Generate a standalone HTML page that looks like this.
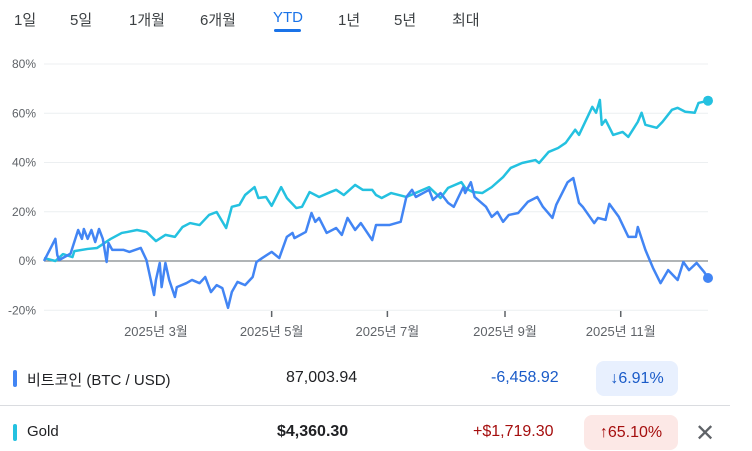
<!DOCTYPE html>
<html><head><meta charset="utf-8"><style>
body{margin:0;width:752px;height:451px;background:#fff;font-family:"Liberation Sans","Noto Sans CJK KR",sans-serif;overflow:hidden;position:relative;color:#202124}
.tab{position:absolute;top:9px;font-size:15px;color:#3c4043}
.abs{position:absolute}
</style></head><body>
<div>
<span class="tab" style="left:14px">1일</span>
<span class="tab" style="left:70px">5일</span>
<span class="tab" style="left:129px">1개월</span>
<span class="tab" style="left:200px">6개월</span>
<span class="tab" style="left:273px;color:#1a73e8">YTD</span>
<div class="abs" style="left:274px;top:29px;width:27px;height:3px;border-radius:2px;background:#1a73e8"></div>
<span class="tab" style="left:338px">1년</span>
<span class="tab" style="left:394px">5년</span>
<span class="tab" style="left:452px">최대</span>
</div>
<svg id="chart" class="abs" style="left:0;top:0" width="752" height="350"></svg>

<div>
<div class="abs" style="left:13px;top:370px;width:4px;height:17px;border-radius:2px;background:#4285f4"></div>
<span class="abs" style="left:27px;top:369px;font-size:15px">비트코인 (BTC / USD)</span>
<span class="abs" style="left:286px;top:369px;font-size:16px">87,003.94</span>
<span class="abs" style="left:491px;top:369px;font-size:16px;color:#1a5bc8">-6,458.92</span>
<div class="abs" style="left:596px;top:361px;width:82px;height:35px;border-radius:8px;background:#e8f0fe;color:#1a5bc8;font-size:16px;line-height:35px;text-align:center">↓6.91%</div>
</div>
<div class="abs" style="left:0;top:405px;width:730px;height:1px;background:#dadce0"></div>
<div>
<div class="abs" style="left:13px;top:424px;width:4px;height:17px;border-radius:2px;background:#24c1e0"></div>
<span class="abs" style="left:27px;top:423px;font-size:15px">Gold</span>
<span class="abs" style="left:277px;top:423px;font-size:16px;font-weight:bold">$4,360.30</span>
<span class="abs" style="left:473px;top:423px;font-size:16px;color:#a50e0e">+$1,719.30</span>
<div class="abs" style="left:584px;top:415px;width:94px;height:35px;border-radius:8px;background:#fce8e6;color:#a50e0e;font-size:16px;line-height:35px;text-align:center">↑65.10%</div>
<span class="abs" style="left:695px;top:419px;font-size:24px;color:#5f6368">✕</span>
</div>
<script>
const yTicks=[80,60,40,20,0,-20];
const xTickDays=[59,120,181,243,304];
const xTickLabels=["2025년 3월","2025년 5월","2025년 7월","2025년 9월","2025년 11월"];
const btcDays=[0,3,6,7,8,14,18,20,21,23,25,27,29,31,33,34,36,42,45,51,54,58,59,61,62,64,66,69,70,75,78,82,85,88,91,94,97,99,102,106,110,112,115,120,124,128,131,132,138,141,143,145,149,154,157,160,164,167,173,175,182,188,191,194,196,203,205,209,213,216,221,222,225,227,233,236,239,242,245,250,255,260,263,268,270,276,279,282,284,290,292,296,298,303,308,312,313,317,321,325,329,334,337,340,344,348,350];
const btcValues=[0,4.5,9,2.4,0.4,3,12.6,9,13,9,12.6,7.7,13,9,-0.4,7.3,4.5,4.5,3.7,5.3,0.4,-13.8,-7.7,-0.8,-10.6,-0.8,-7.7,-14.6,-10.6,-9,-7.7,-9,-6.5,-12.6,-9.8,-11,-19,-12.6,-8.5,-9.8,-6.5,-0.4,1.2,3.7,1.2,9.8,11.4,9.3,11.8,19.5,15.9,17.5,11.4,13.4,10.6,17.5,12.6,15.4,8.5,14.6,14.6,15.9,26,28.9,26,28.9,24.8,27.6,23.6,22,30,27.6,32,26,22,17.9,19.9,15.9,18.7,19.5,24,26,22,17.5,22.8,32,33.7,23.6,22,15.4,17.5,16.7,23.2,17.9,9.8,9.8,13.8,4.5,-2.8,-9,-3.7,-7.7,-0.4,-3.7,-0.8,-4.5,-6.91];
const goldDays=[0,6,10,15,16,23,28,35,41,44,49,54,59,64,69,73,77,82,87,91,96,99,103,106,111,113,117,120,125,128,133,136,140,145,151,154,158,164,168,173,175,178,183,191,197,203,209,213,220,222,226,231,236,242,246,252,259,261,266,271,275,280,282,287,289,291,293,294,296,300,305,308,313,315,317,323,326,331,334,338,343,345,350];
const goldValues=[1.2,0,2.8,1.6,4,4.9,5.3,8.9,11.4,11.8,12.6,11.8,8.1,10.6,9.8,13.8,15.4,14.6,18.7,19.9,13.4,22,22.8,26.8,30,25.6,26,22.4,30,25.6,21.5,22,28,26,28,28.9,26.8,30.9,28.9,28.9,26.8,25.6,27.6,26,28,30,25.6,29.7,32,29.7,28,27.6,30,34.1,37.8,39.8,41,39.8,44.3,45.9,48,53.3,51.2,59.3,62.6,60.2,65.4,55.3,57.3,51.2,52.4,50.4,56.5,60.2,55.3,54.1,56.5,61.4,62.2,60.6,60.2,64.2,65.1];
const NS="http://www.w3.org/2000/svg";
const svg=document.getElementById('chart');
const X0=44,X1=708,DMAX=350;
const xs=d=>X0+d/DMAX*(X1-X0);
const ys=v=>261-v*(49.25/20);
function mk(t,a){const e=document.createElementNS(NS,t);for(const k in a)e.setAttribute(k,a[k]);svg.appendChild(e);return e;}
yTicks.forEach(v=>{
 const l=mk('line',{x1:X0,x2:X1,y1:ys(v),y2:ys(v),stroke:v===0?'#80868b':'#eceff1','stroke-width':v===0?1.2:1});
 
 
 const t=mk('text',{x:36,y:ys(v)+4,'text-anchor':'end','font-size':12,fill:'#5f6368','font-family':'Liberation Sans, sans-serif'});
 t.textContent=v+'%';
 
 
});
xTickDays.forEach((d,i)=>{
 const m=mk('line',{x1:xs(d),x2:xs(d),y1:311,y2:317,stroke:'#5f6368','stroke-width':1.5});
 
 
 const t=mk('text',{x:xs(d),y:336,'text-anchor':'middle','font-size':13,fill:'#5f6368','font-family':'Liberation Sans, Noto Sans CJK KR, sans-serif'});
 t.textContent=xTickLabels[i];
 
 
});
function series(days,vals,col,name){
 const p=mk('polyline',{points:days.map((d,i)=>xs(d)+','+ys(vals[i])).join(' '),fill:'none',stroke:col,'stroke-width':2.5,'stroke-linejoin':'round'});
 
 
 const n=days.length-1;
 const c=mk('circle',{cx:xs(days[n]),cy:ys(vals[n]),r:5,fill:col});
 
 
}
series(goldDays,goldValues,'#24c1e0','gold');
series(btcDays,btcValues,'#4285f4','btc');
</script>
</body></html>
